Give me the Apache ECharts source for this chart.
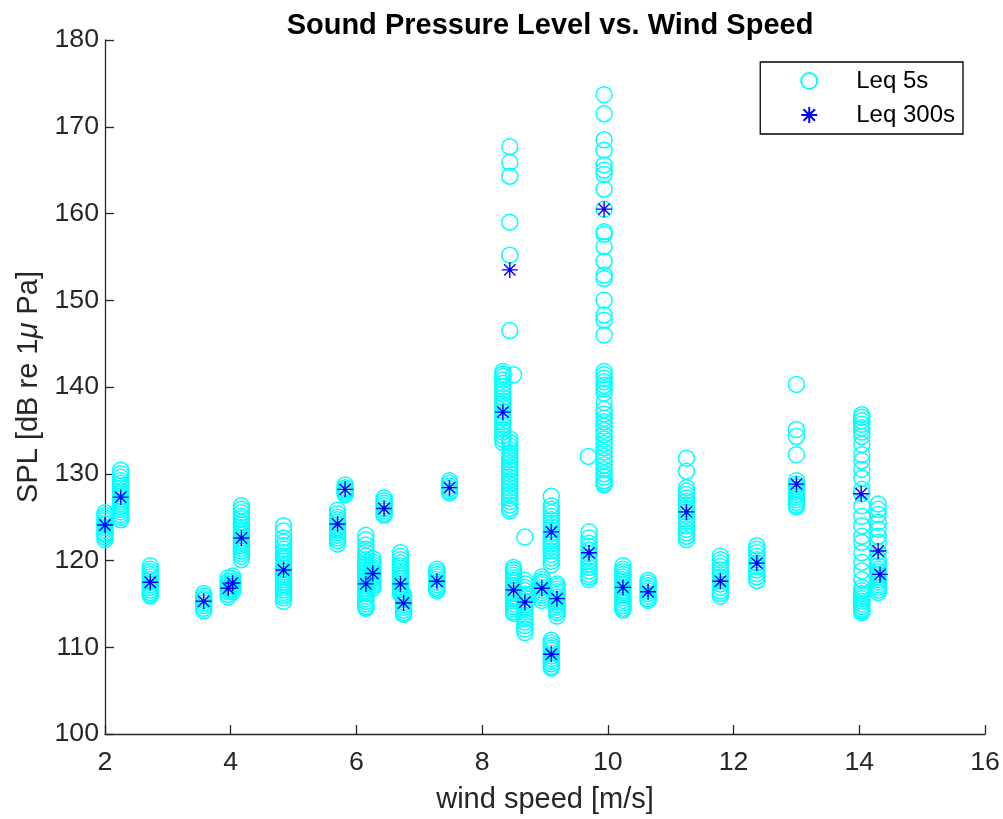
<!DOCTYPE html>
<html>
<head>
<meta charset="utf-8">
<script src="https://cdn.jsdelivr.net/npm/echarts@6/dist/echarts.min.js"></script>
<style>
html,body{margin:0;padding:0;background:#fff;}
#chart{width:1003px;height:819px;}
</style>
</head>
<body>
<div id="chart"></div>
<script>
// Leq 5s clusters: wind speed of each cluster and its SPL values
const windSpeed5s = [2.00, 2.25, 2.72, 3.57, 3.96, 4.03, 4.17, 4.84, 5.70, 5.82, 6.15, 6.26, 6.44, 6.70, 6.75, 7.28, 7.48, 8.33, 8.50, 8.44, 8.50, 8.68, 8.95, 9.10, 9.19, 9.10, 9.70, 9.69, 9.94, 10.24, 10.64, 11.25, 11.79, 12.37, 13.00, 14.04, 14.30];
const spl5s = [
  [125.5,125.2,124.9,124.6,124.3,124.1,123.8,123.5,123.2,123.0,122.7,122.4],
  [130.4,130.0,129.6,129.2,128.9,128.6,128.3,128.0,127.7,127.4,127.1,126.8,126.5,126.2,125.9,125.6,125.3,125.0,124.7],
  [119.4,119.0,118.7,118.4,118.1,117.8,117.5,117.2,116.9,116.6,116.3,116.1,115.9],
  [116.2,115.9,115.6,115.4,115.1,114.8,114.5,114.2],
  [118.0,117.6,117.3,117.0,116.7,116.4,116.1,115.8],
  [118.2,117.9,117.6,117.3,117.0,116.7,116.4],
  [126.3,125.9,125.5,125.1,124.8,124.4,124.1,123.8,123.5,123.2,122.9,122.6,122.3,122.0,121.7,121.4,121.1,120.8,120.5,120.1],
  [124.0,123.4,122.6,122.1,121.7,121.3,120.9,120.5,120.2,119.9,119.6,119.3,119.0,118.7,118.4,118.1,117.8,117.5,117.2,116.9,116.6,116.3,116.0,115.7,115.3],
  [125.8,125.4,125.0,124.7,124.4,124.1,123.8,123.5,123.2,122.9,122.6,122.3,121.9],
  [128.7,128.4,128.2,128.0,127.8,127.6],
  [122.9,122.4,121.8,121.3,120.9,120.5,120.1,119.8,119.5,119.2,118.9,118.6,118.3,118.0,117.7,117.4,117.1,116.8,116.5,116.2,115.9,115.6,115.3,115.0,114.7,114.5],
  [120.2,119.8,119.5,119.2,118.9,118.6,118.3,118.0,117.7,117.4,117.1,116.8],
  [127.2,126.9,126.6,126.3,126.0,125.7,125.4,125.2],
  [120.9,120.5,120.1,119.7,119.4,119.1,118.8,118.5,118.2,117.9,117.6,117.3,117.0,116.7,116.4,116.2],
  [116.1,115.8,115.5,115.2,114.9,114.6,114.3,114.0,113.8],
  [119.0,118.7,118.4,118.1,117.8,117.5,117.2,116.9,116.7,116.5],
  [129.2,128.9,128.6,128.3,128.0,127.8],
  [141.8,141.5,141.2,140.8,140.4,140.0,139.6,139.2,138.8,138.4,138.0,137.6,137.2,136.8,136.4,136.0,135.6,135.2,134.8,134.4,134.0,133.6],
  [141.4],
  [167.7,165.9,164.3,159.0,155.2,146.5,134.0,133.6,133.2,132.8,132.4,132.0,131.6,131.2,130.8,130.4,130.0,129.6,129.2,128.8,128.4,128.0,127.6,127.2,126.8,126.4,126.0,125.7],
  [119.2,118.9,118.6,118.3,118.0,117.7,117.4,117.1,116.8,116.5,116.2,115.9,115.6,115.3,115.0,114.7,114.4,114.1,113.9],
  [122.7,117.7,117.3,116.9,116.5,116.1,115.7,115.3,114.9,114.5,114.1,113.7,113.3,112.9,112.5,112.1,111.7],
  [118.1,117.8,117.5,117.2,116.9,116.6,116.3,116.0,115.7,115.4],
  [127.4,126.3,125.9,125.5,125.1,124.7,124.3,123.9,123.5,123.1,122.7,122.3,121.9,121.5,121.1,120.7,120.3,119.9,119.5],
  [117.3,117.0,116.7,116.4,116.1,115.8,115.5,115.2,114.9,114.6,114.3,114.0,113.6],
  [110.8,110.5,110.2,109.9,109.6,109.3,109.0,108.7,108.4,108.1,107.8,107.6],
  [123.3,122.6,122.0,121.6,121.2,120.8,120.4,120.0,119.6,119.2,118.8,118.4,118.1,117.8],
  [132.0],
  [173.7,171.5,168.5,167.3,165.6,165.0,164.5,162.8,160.5,157.9,157.6,156.2,154.5,152.9,152.5,150.0,148.3,147.7,146.0,141.8,141.4,141.0,140.6,140.2,139.8,139.3,138.2,137.4,136.9,136.4,136.0,135.5,135.0,134.5,134.0,133.5,133.0,132.5,132.0,131.5,131.0,130.5,130.0,129.6,129.2,128.9,128.7],
  [119.4,119.0,118.7,118.4,118.1,117.8,117.5,117.2,116.9,116.6,116.3,116.0,115.7,115.4,115.1,114.8,114.5,114.3],
  [117.7,117.4,117.1,116.8,116.5,116.2,115.9,115.6,115.4],
  [131.8,130.3,128.4,128.0,127.6,127.2,126.8,126.4,126.0,125.6,125.2,124.8,124.4,124.0,123.6,123.2,122.8,122.4],
  [120.5,120.1,119.7,119.3,118.9,118.5,118.1,117.7,117.3,116.9,116.5,116.2,115.9],
  [121.7,121.3,120.9,120.5,120.1,119.7,119.3,118.9,118.5,118.1,117.7],
  [140.3,135.1,134.3,132.2,129.2,128.8,128.5,128.2,127.9,127.6,127.3,127.0,126.7,126.4,126.2],
  [136.8,136.5,136.1,135.7,135.3,134.8,134.3,133.4,132.2,131.5,130.5,129.5,128.2,127.7,126.3,125.1,124.0,122.8,122.1,120.9,119.8,118.8,117.8,116.9,116.5,116.2,115.9,115.6,115.3,115.0,114.7,114.4,114.2,114.0],
  [126.5,125.9,125.3,124.4,123.6,122.8,122.1,121.0,120.2,119.8,119.4,119.0,118.7,118.4,118.1,117.8,117.5,117.2,116.9,116.6,116.3]
];
// Leq 300s values
const windSpeed300s = [2.00, 2.25, 2.72, 3.57, 3.96, 4.03, 4.17, 4.84, 5.70, 5.82, 6.15, 6.26, 6.44, 6.70, 6.75, 7.28, 7.48, 8.33, 8.44, 8.50, 8.68, 8.95, 9.10, 9.10, 9.19, 9.70, 9.94, 10.24, 10.64, 11.25, 11.79, 12.37, 13.00, 14.03, 14.30, 14.33];
const spl300s = [124.1, 127.3, 117.5, 115.3, 116.8, 117.4, 122.6, 118.9, 124.2, 128.2, 117.3, 118.5, 126.0, 117.3, 115.1, 117.6, 128.4, 137.1, 153.5, 116.6, 115.2, 116.8, 123.3, 109.2, 115.6, 120.9, 160.5, 116.9, 116.4, 125.6, 117.6, 119.7, 128.8, 127.7, 121.1, 118.4];

const xTicks = [2, 4, 6, 8, 10, 12, 14, 16];
const yTicks = [100, 110, 120, 130, 140, 150, 160, 170, 180];

const data5s = [];
windSpeed5s.forEach((w, i) => spl5s[i].forEach(v => data5s.push([w, v])));
const data300s = windSpeed300s.map((w, i) => [w, spl300s[i]]);

const FONT = '"Liberation Sans", Arial, sans-serif';
const AX = '#262626';
const star = 'path://M8,0L8,16M0,8L16,8M2.3,2.3L13.7,13.7M2.3,13.7L13.7,2.3';

const chart = echarts.init(document.getElementById('chart'), null, {renderer: 'canvas'});
chart.setOption({
  animation: false,
  backgroundColor: '#fff',
  title: {
    text: 'Sound Pressure Level vs. Wind Speed',
    left: 545, top: 6, textAlign: 'center',
    textStyle: {fontFamily: FONT, fontSize: 29, fontWeight: 'bold', color: '#000'}
  },
  legend: {
    orient: 'vertical',
    right: 40, top: 62,
    backgroundColor: '#fff',
    borderColor: '#000', borderWidth: 1.3,
    padding: [7, 8, 7, 40],
    itemWidth: 84, itemHeight: 16, itemGap: 10,
    textStyle: {fontFamily: FONT, fontSize: 24, color: '#000'},
    data: ['Leq 5s', 'Leq 300s']
  },
  grid: {left: 105, right: 18, top: 40, bottom: 84, containLabel: false},
  xAxis: {
    type: 'value', min: xTicks[0], max: xTicks[xTicks.length - 1], interval: 2,
    name: 'wind speed [m/s]', nameLocation: 'middle', nameGap: 51,
    nameTextStyle: {fontFamily: FONT, fontSize: 29, color: AX},
    axisLine: {show: true, lineStyle: {color: AX, width: 1.3}},
    axisTick: {show: true, inside: true, length: 9, lineStyle: {color: AX, width: 1.3}},
    axisLabel: {fontFamily: FONT, fontSize: 26.7, color: AX, margin: 15},
    splitLine: {show: false}
  },
  yAxis: {
    type: 'value', min: yTicks[0], max: yTicks[yTicks.length - 1], interval: 10,
    name: '{a|SPL [dB re 1}{b|μ}{a| Pa]}', nameLocation: 'middle', nameGap: 60,
    nameTextStyle: {
      fontFamily: FONT, fontSize: 29, color: AX,
      rich: {
        a: {fontFamily: FONT, fontSize: 29, color: AX},
        b: {fontFamily: FONT, fontSize: 29, color: AX, fontStyle: 'italic'}
      }
    },
    axisLine: {show: true, lineStyle: {color: AX, width: 1.3}},
    axisTick: {show: true, inside: true, length: 9, lineStyle: {color: AX, width: 1.3}},
    axisLabel: {fontFamily: FONT, fontSize: 26.7, color: AX, margin: 6},
    splitLine: {show: false}
  },
  series: [
    {
      name: 'Leq 5s', type: 'scatter', data: data5s,
      symbol: 'circle', symbolSize: 16,
      itemStyle: {color: 'rgba(0,0,0,0)', borderColor: '#00ffff', borderWidth: 1.5, opacity: 1},
      emphasis: {disabled: true}
    },
    {
      name: 'Leq 300s', type: 'scatter', data: data300s,
      symbol: star, symbolSize: 16,
      itemStyle: {color: 'rgba(0,0,0,0)', borderColor: '#0000ff', borderWidth: 1.4, opacity: 1},
      emphasis: {disabled: true}
    }
  ]
});
</script>
</body>
</html>
